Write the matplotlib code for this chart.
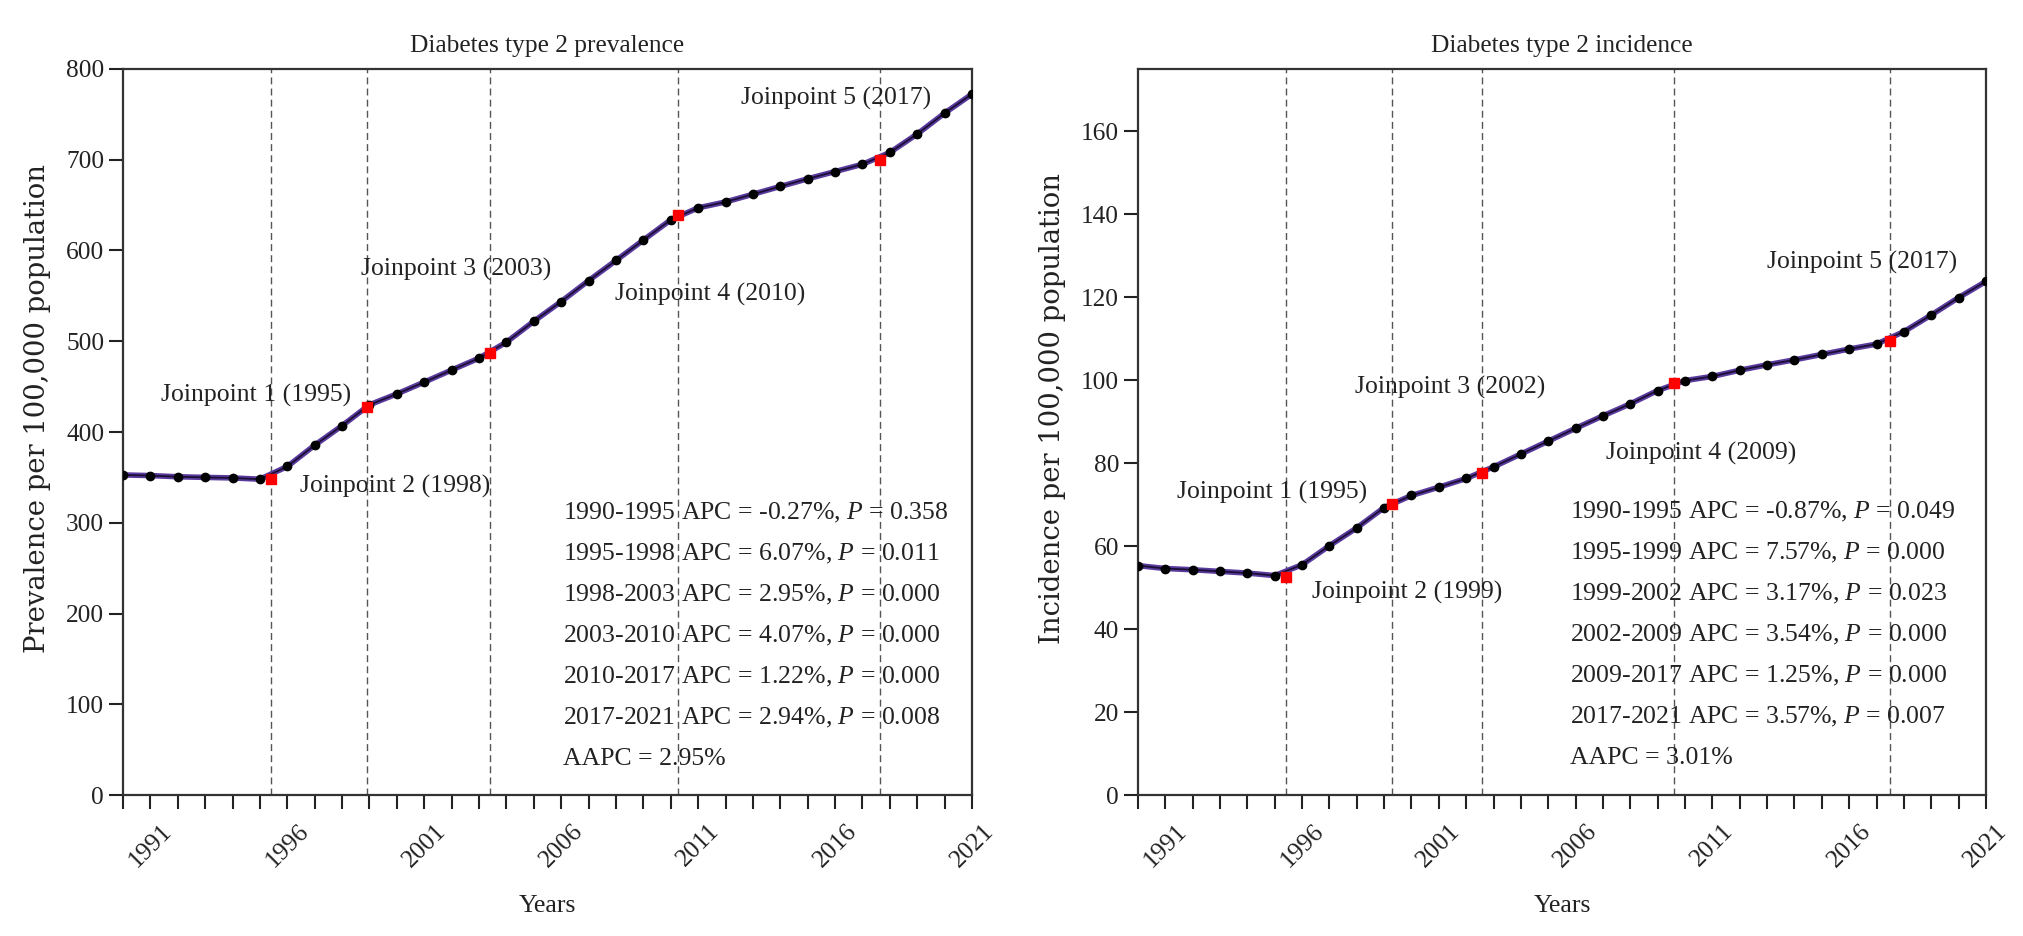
import matplotlib
matplotlib.use('Agg')
import matplotlib.pyplot as plt
from matplotlib.ticker import MultipleLocator

plt.rcParams['font.family'] = ['Liberation Serif', 'DejaVu Serif']
plt.rcParams['mathtext.fontset'] = 'custom'
plt.rcParams['mathtext.rm'] = 'Liberation Serif'
plt.rcParams['mathtext.it'] = 'Liberation Serif:italic'

years = list(range(1990, 2022))

prevalence = [352.7, 352.0, 350.7, 350.0, 349.4, 348.0, 362.0, 385.5, 407.0, 430.0,
              442.0, 455.0, 468.3, 481.4, 499.0, 522.0, 543.8, 566.8, 589.0, 611.5,
              633.8, 647.0, 653.5, 662.0, 670.6, 679.0, 687.0, 695.0, 708.0, 728.4,
              751.4, 772.4]
prev_joint_x = [1995.4, 1998.9, 2003.4, 2010.26, 2017.64]
prev_joint_y = [348.0, 427.6, 487.4, 639.0, 700.0]
prev_joint_labels = ['Joinpoint 1 (1995)', 'Joinpoint 2 (1998)', 'Joinpoint 3 (2003)',
                     'Joinpoint 4 (2010)', 'Joinpoint 5 (2017)']
prev_stats = ['1990-1995 APC = -0.27%, $P$ = 0.358',
              '1995-1998 APC = 6.07%, $P$ = 0.011',
              '1998-2003 APC = 2.95%, $P$ = 0.000',
              '2003-2010 APC = 4.07%, $P$ = 0.000',
              '2010-2017 APC = 1.22%, $P$ = 0.000',
              '2017-2021 APC = 2.94%, $P$ = 0.008',
              'AAPC = 2.95%']

incidence = [55.3, 54.6, 54.3, 53.9, 53.5, 52.9, 55.5, 60.1, 64.4, 69.3,
             72.2, 74.2, 76.3, 79.1, 82.2, 85.3, 88.4, 91.4, 94.3, 97.5,
             99.9, 100.9, 102.4, 103.7, 104.9, 106.2, 107.5, 108.7, 111.7, 115.7,
             119.9, 123.8]
inc_joint_x = [1995.4, 1999.3, 2002.57, 2009.6, 2017.5]
inc_joint_y = [52.6, 70.2, 77.6, 99.3, 109.5]
inc_joint_labels = ['Joinpoint 1 (1995)', 'Joinpoint 2 (1999)', 'Joinpoint 3 (2002)',
                    'Joinpoint 4 (2009)', 'Joinpoint 5 (2017)']
inc_stats = ['1990-1995 APC = -0.87%, $P$ = 0.049',
             '1995-1999 APC = 7.57%, $P$ = 0.000',
             '1999-2002 APC = 3.17%, $P$ = 0.023',
             '2002-2009 APC = 3.54%, $P$ = 0.000',
             '2009-2017 APC = 1.25%, $P$ = 0.000',
             '2017-2021 APC = 3.57%, $P$ = 0.007',
             'AAPC = 3.01%']

fig = plt.figure(figsize=(20.23, 9.36), dpi=100)
ax1 = fig.add_axes([0.0608, 0.1506, 0.4197, 0.7757])
ax2 = fig.add_axes([0.5625, 0.1506, 0.4192, 0.7757])


def draw_panel(ax, values, jx, jy, jlabels, label_pos, stats, stat_pos,
               ymax, ystep, title, ylabel):
    for x in jx:
        ax.axvline(x, color='#555555', lw=1.0, ls=(0, (5, 3)), zorder=1)
    ax.plot(years, values, color='#5b3a9e', lw=4.0, zorder=2, solid_capstyle='round')
    ax.plot(years, values, color='#1a0f35', lw=1.3, zorder=3)
    ax.plot(years, values, 'o', color='black', ms=6, zorder=4)
    ax.plot(jx, jy, 's', color='red', ms=6.5, mec='red', zorder=5)

    for text, (tx, ty) in zip(jlabels, label_pos):
        ax.text(tx, ty, text, fontsize=18.5, va='center', ha='left', color='#222222', zorder=6)

    sx, sy0, sdy = stat_pos
    for i, line in enumerate(stats):
        ax.text(sx, sy0 - i * sdy, line, fontsize=18.5, va='center', ha='left',
                color='#222222', zorder=6)

    ax.set_xlim(1990, 2021)
    ax.set_ylim(0, ymax)
    ax.set_xticks([1991, 1996, 2001, 2006, 2011, 2016, 2021])
    ax.xaxis.set_minor_locator(MultipleLocator(1))
    ax.yaxis.set_major_locator(MultipleLocator(ystep))
    ax.tick_params(axis='both', which='both', direction='out', length=10, width=1.5,
                   labelsize=18.3, colors='#222222')
    ax.tick_params(axis='x', which='major', pad=8)
    for lab in ax.get_xticklabels():
        lab.set_rotation(45)
        lab.set_ha('center')
    for sp in ax.spines.values():
        sp.set_linewidth(1.6)
        sp.set_color('#333333')

    ax.set_title(title, fontsize=18.3, pad=12, color='#222222')
    ax.set_xlabel('Years', fontsize=18.5, color='#222222', labelpad=17)
    ax.set_ylabel(ylabel, fontsize=19.8, family='DejaVu Serif', color='#222222')
    ax.yaxis.set_label_coords(-0.085, 0.533)


draw_panel(ax1, prevalence, prev_joint_x, prev_joint_y, prev_joint_labels,
           [(1991.37, 440.7), (1996.45, 340.0), (1998.7, 578.6), (2007.97, 552.0), (2012.55, 768.0)],
           prev_stats, (2006.06, 310.7, 45.2), 800, 100,
           'Diabetes type 2 prevalence', 'Prevalence per 100,000 population')

draw_panel(ax2, incidence, inc_joint_x, inc_joint_y, inc_joint_labels,
           [(1991.43, 73.0), (1996.37, 48.9), (1997.92, 98.2), (2007.12, 82.4), (2013.0, 128.4)],
           inc_stats, (2005.81, 68.3, 9.9), 175, 20,
           'Diabetes type 2 incidence', 'Incidence per 100,000 population')

fig.savefig('out.png', dpi=100)
